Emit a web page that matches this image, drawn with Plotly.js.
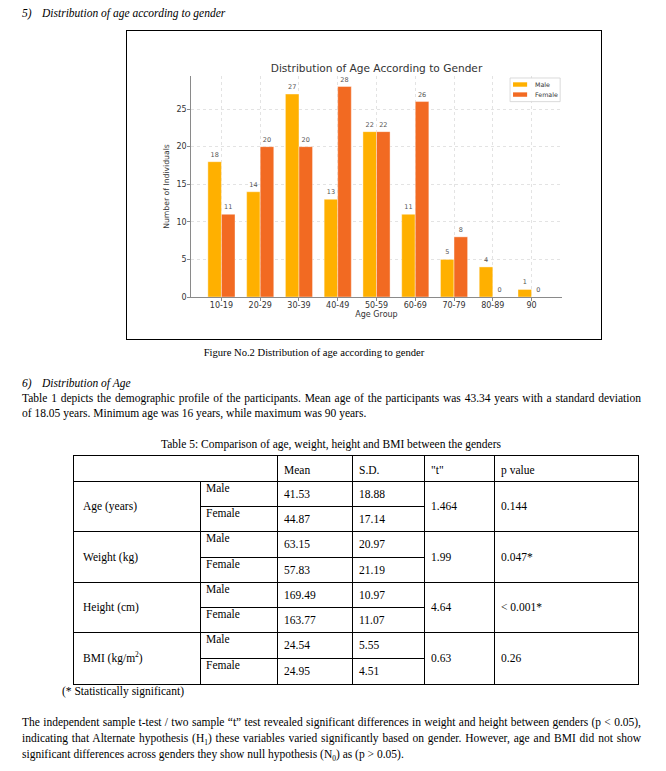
<!DOCTYPE html>
<html>
<head>
<meta charset="utf-8">
<script src="https://cdn.plot.ly/plotly-3.0.1.min.js"></script>
<style>
  html, body { margin: 0; padding: 0; background: #fff; }
  body { width: 666px; height: 771px; position: relative; overflow: hidden;
         font-family: 'Liberation Serif', 'Times New Roman', serif; font-size: 11.5px; color: #000; }
  .abs { position: absolute; white-space: nowrap; line-height: 15px; }
  .it { font-style: italic; }
  .jl { text-align: justify; text-align-last: justify; }
  #box { position: absolute; left: 125.5px; top: 29.5px; width: 474px; height: 308px; border: 1.5px solid #000; }
  #chart { position: absolute; left: 127px; top: 31px; width: 474px; height: 308px; }
  #tbl { position: absolute; left: 73px; top: 455px; border-collapse: collapse; table-layout: fixed; width: 565px; }
  #tbl td { border: 1px solid #000; padding: 0 0 0 6px; font-size: 11.5px; line-height: 13px; white-space: nowrap; overflow: hidden; }
  #tbl td.var { padding-left: 9px; vertical-align: middle; }
  #tbl td.g { vertical-align: top; padding-top: 0px; padding-left: 5px; }
  #tbl td.v { vertical-align: middle; }
  sup, sub { font-size: 65%; line-height: 0; }
</style>
</head>
<body>
<div class="abs it" style="left:22px; top:6px;">5)</div>
<div class="abs it" style="left:42px; top:6px;">Distribution of age according to gender</div>

<div id="box"></div>
<div id="chart"></div>

<div class="abs" style="left:0; width:628px; text-align:center; top:345px; font-size:10.6px;">Figure No.2 Distribution of age according to gender</div>

<div class="abs it" style="left:22px; top:376px;">6)</div>
<div class="abs it" style="left:42px; top:376px;">Distribution of Age</div>
<div class="abs jl" style="left:22px; width:619px; top:390.5px;">Table 1 depicts the demographic profile of the participants. Mean age of the participants was 43.34 years with a standard deviation</div>
<div class="abs" style="left:22px; top:405.5px;">of 18.05 years. Minimum age was 16 years, while maximum was 90 years.</div>

<div class="abs" style="left:0; width:662px; text-align:center; top:437px;">Table 5: Comparison of age, weight, height and BMI between the genders</div>
<table id="tbl"></table>

<div class="abs" style="left:62px; top:684px;">(* Statistically significant)</div>

<div class="abs jl" style="left:22px; width:619px; top:714.5px;">The independent sample t-test / two sample “t” test revealed significant differences in weight and height between genders (p &lt; 0.05),</div>
<div class="abs jl" style="left:22px; width:619px; top:730.5px;">indicating that Alternate hypothesis (H<sub>1</sub>) these variables varied significantly based on gender. However, age and BMI did not show</div>
<div class="abs" style="left:22px; top:746.5px;">significant differences across genders they show null hypothesis (N<sub>0</sub>) as (p &gt; 0.05).</div>

<script>
// ---- Chart data ----
const ageGroups = ['10-19', '20-29', '30-39', '40-49', '50-59', '60-69', '70-79', '80-89', '90'];
const maleCounts = [18, 14, 27, 13, 22, 11, 5, 4, 1];
const femaleCounts = [11, 20, 20, 28, 22, 26, 8, 0, 0];
const yTickValues = [0, 5, 10, 15, 20, 25];
const seriesNames = ['Male', 'Female'];
const seriesColors = ['#FFB000', '#F26A22'];

// ---- Table data ----
const tableHeaders = ['Mean', 'S.D.', '"t"', 'p value'];
const variableNames = ['Age (years)', 'Weight (kg)', 'Height (cm)', 'BMI (kg/m<sup>2</sup>)'];
const genders = ['Male', 'Female'];
const maleMean = ['41.53', '63.15', '169.49', '24.54'];
const maleSD = ['18.88', '20.97', '10.97', '5.55'];
const femaleMean = ['44.87', '57.83', '163.77', '24.95'];
const femaleSD = ['17.14', '21.19', '11.07', '4.51'];
const tValues = ['1.464', '1.99', '4.64', '0.63'];
const pValues = ['0.144', '0.047*', '&lt; 0.001*', '0.26'];

// build table
(function () {
  const colW = [127, 77, 75, 72, 70, 144];
  const subH = [[25, 25], [26, 25], [25, 25], [26, 26]];
  let h = '<colgroup>' + colW.map(w => '<col style="width:' + w + 'px">').join('') + '</colgroup>';
  h += '<tr style="height:26px"><td colspan="2"></td>' +
       tableHeaders.map(t => '<td class="v" style="padding-top:3px">' + t + '</td>').join('') + '</tr>';
  for (let i = 0; i < variableNames.length; i++) {
    h += '<tr style="height:' + subH[i][0] + 'px">' +
         '<td class="var" rowspan="2">' + variableNames[i] + '</td>' +
         '<td class="g">' + genders[0] + '</td>' +
         '<td class="v">' + maleMean[i] + '</td>' +
         '<td class="v">' + maleSD[i] + '</td>' +
         '<td class="v" rowspan="2">' + tValues[i] + '</td>' +
         '<td class="v" rowspan="2">' + pValues[i] + '</td></tr>';
    h += '<tr style="height:' + subH[i][1] + 'px">' +
         '<td class="g">' + genders[1] + '</td>' +
         '<td class="v">' + femaleMean[i] + '</td>' +
         '<td class="v">' + femaleSD[i] + '</td></tr>';
  }
  document.getElementById('tbl').innerHTML = h;
})();

// ---- Chart ----
const font = 'DejaVu Sans, Verdana, sans-serif';
const traces = seriesNames.map((name, k) => ({
  type: 'bar',
  name: name,
  x: ageGroups,
  y: k === 0 ? maleCounts : femaleCounts,
  marker: { color: seriesColors[k], line: { color: '#ffffff', width: 0.4 } },
  textposition: 'outside',
  texttemplate: '%{y}',
  textfont: { family: font, size: 6.5, color: '#555' },
  constraintext: 'none',
  cliponaxis: false,
  hoverinfo: 'skip'
}));

// compact legend (matplotlib style) drawn in paper coordinates
const legendShapes = [{
  type: 'rect', xref: 'paper', yref: 'paper', layer: 'above',
  x0: 0.860, x1: 0.995, y0: 0.884, y1: 0.991,
  fillcolor: 'rgba(255,255,255,0.9)', line: { color: '#d0d0d0', width: 0.8 }
}];
const legendAnn = [];
const rowY = [0.9615, 0.916];
seriesNames.forEach((name, k) => {
  legendShapes.push({
    type: 'rect', xref: 'paper', yref: 'paper', layer: 'above',
    x0: 0.868, x1: 0.906, y0: rowY[k] - 0.010, y1: rowY[k] + 0.010,
    fillcolor: seriesColors[k], line: { width: 0 }
  });
  legendAnn.push({
    xref: 'paper', yref: 'paper', x: 0.921, y: rowY[k], xanchor: 'left', yanchor: 'middle',
    text: name, showarrow: false, font: { family: font, size: 6.3, color: '#333' }
  });
});

const axisCommon = {
  showline: true, linecolor: '#8a8a8a', linewidth: 1.3,
  ticks: 'outside', ticklen: 2.5, tickwidth: 1, tickcolor: '#8a8a8a',
  showgrid: true, gridcolor: '#dcdcdc', griddash: 'dot', gridwidth: 0.8,
  zeroline: false,
  tickfont: { family: font, size: 8, color: '#333' }
};
const layout = {
  width: 474, height: 308,
  margin: { l: 64, r: 39, t: 45, b: 42, pad: 0 },
  paper_bgcolor: '#ffffff', plot_bgcolor: '#ffffff',
  barmode: 'group', bargap: 0.3, bargroupgap: 0,
  title: {
    text: 'Distribution of Age According to Gender',
    font: { family: font, size: 10.6, color: '#333' },
    x: 0.5, xref: 'paper', xanchor: 'center',
    y: 1, yref: 'paper', yanchor: 'bottom', pad: { b: 4 }
  },
  xaxis: Object.assign({}, axisCommon, {
    type: 'category', range: [-0.785, 8.785], ticklabelstandoff: -2,
    title: { text: 'Age Group', font: { family: font, size: 8, color: '#333' }, standoff: 1 }
  }),
  yaxis: Object.assign({}, axisCommon, {
    range: [0, 29.4], tickmode: 'array', tickvals: yTickValues, ticklabelstandoff: -1,
    title: { text: 'Number of Individuals', font: { family: font, size: 7.7, color: '#333' }, standoff: 5 }
  }),
  shapes: legendShapes,
  annotations: legendAnn,
  showlegend: false
};
Plotly.newPlot('chart', traces, layout, { staticPlot: true, displayModeBar: false });
</script>
</body>
</html>
